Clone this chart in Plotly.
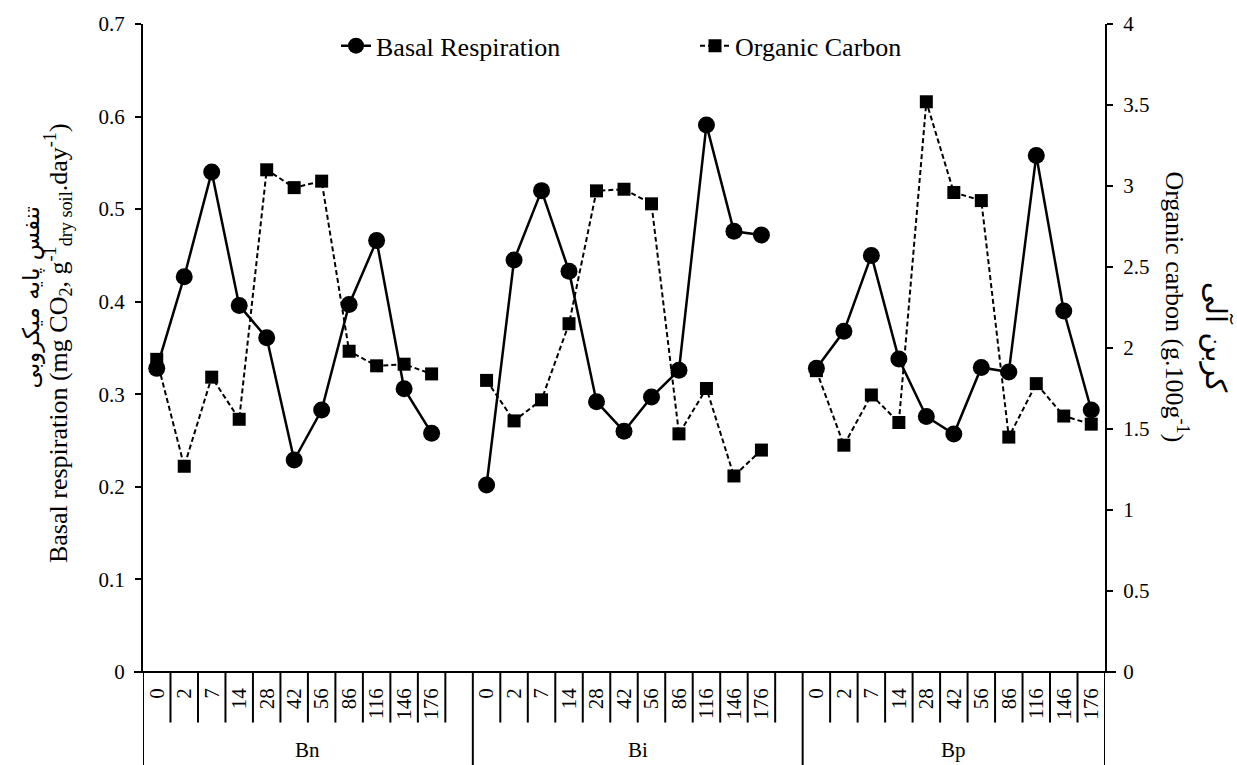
import plotly.graph_objects as go

# ---- data ----
days = ["0", "2", "7", "14", "28", "42", "56", "86", "116", "146", "176"]
groups = ["Bn", "Bi", "Bp"]

resp_bn = [0.328, 0.427, 0.540, 0.396, 0.361, 0.229, 0.283, 0.397, 0.466, 0.306, 0.258]
resp_bi = [0.202, 0.445, 0.520, 0.433, 0.292, 0.260, 0.297, 0.326, 0.591, 0.476, 0.472]
resp_bp = [0.328, 0.368, 0.450, 0.338, 0.276, 0.257, 0.329, 0.324, 0.558, 0.390, 0.283]

oc_bn = [1.93, 1.27, 1.82, 1.56, 3.10, 2.99, 3.03, 1.98, 1.89, 1.90, 1.84]
oc_bi = [1.80, 1.55, 1.68, 2.15, 2.97, 2.98, 2.89, 1.47, 1.75, 1.21, 1.37]
oc_bp = [1.86, 1.40, 1.71, 1.54, 3.52, 2.96, 2.91, 1.45, 1.78, 1.58, 1.53]

resp = [resp_bn, resp_bi, resp_bp]
oc = [oc_bn, oc_bi, oc_bp]

FONT = "Liberation Serif, Times New Roman, serif"
FA_FONT = "DejaVu Serif, DejaVu Sans, serif"
n = len(days)
slot = n + 1  # one blank category after each group

xs, yr, yc, tickvals, ticktext = [], [], [], [], []
for g in range(len(groups)):
    for i in range(n):
        xs.append(g * slot + i)
        yr.append(resp[g][i])
        yc.append(oc[g][i])
        tickvals.append(g * slot + i)
        ticktext.append(days[i])
    if g < len(groups) - 1:
        xs.append(g * slot + n)
        yr.append(None)
        yc.append(None)

xmax = (len(groups) - 1) * slot + n - 0.5

fig = go.Figure()
fig.add_trace(go.Scatter(
    x=xs, y=yr, name="Basal Respiration", mode="lines+markers",
    line=dict(color="black", width=2.5),
    marker=dict(symbol="circle", size=17, color="black"),
    connectgaps=False,
))
fig.add_trace(go.Scatter(
    x=xs, y=yc, name="Organic Carbon", mode="lines+markers", yaxis="y2",
    line=dict(color="black", width=2, dash="5px,3px"),
    marker=dict(symbol="square", size=13, color="black"),
    connectgaps=False,
))

shapes = []
plot_h = 765 - 18 - 93
short_len = 51 / plot_h
long_len = 95 / plot_h
for g in range(len(groups)):
    last = n if g < len(groups) - 1 else n - 1
    for i in range(last):
        xv = g * slot + i + 0.5
        shapes.append(dict(type="line", xref="x", yref="paper", x0=xv, x1=xv,
                           y0=0, y1=-short_len, line=dict(color="black", width=2)))
for xv in [-0.5] + [g * slot + n + 0.5 for g in range(len(groups) - 1)] + [xmax]:
    shapes.append(dict(type="line", xref="x", yref="paper", x0=xv, x1=xv,
                       y0=0, y1=-long_len, line=dict(color="black", width=2)))
shapes.append(dict(type="line", xref="paper", yref="paper", x0=-9 / 962, x1=1 + 11 / 962,
                   y0=0, y1=0, line=dict(color="black", width=2)))

annotations = []
for g, name in enumerate(groups):
    start = g * slot - 0.5
    end = g * slot + n + 0.5 if g < len(groups) - 1 else xmax
    annotations.append(dict(x=(start + end) / 2, y=-(751 - 672) / plot_h, xref="x", yref="paper",
                            text=name, showarrow=False, xanchor="center", yanchor="middle",
                            font=dict(family=FONT, size=21, color="black")))

# axis titles
annotations += [
    dict(x=-(143 - 58) / 962, y=(672 - 340) / plot_h, xref="paper", yref="paper",
         text="Basal respiration (mg CO<sub>2</sub>, g<sup>-1</sup><sub>dry soil</sub>.day<sup>-1</sup>)",
         textangle=-90, showarrow=False, xanchor="center", yanchor="middle",
         font=dict(family=FONT, size=26, color="black")),
    dict(x=-(143 - 31) / 962, y=(672 - 294) / plot_h, xref="paper", yref="paper",
         text="تنفس پایه میکروبی", textangle=-90, showarrow=False,
         xanchor="center", yanchor="middle",
         font=dict(family=FA_FONT, size=23, color="black")),
    dict(x=1 + (1177 - 1105) / 962, y=(672 - 303) / plot_h, xref="paper", yref="paper",
         text="Organic carbon (g.100g<sup>-1</sup>)", textangle=90, showarrow=False,
         xanchor="center", yanchor="middle",
         font=dict(family=FONT, size=26, color="black")),
    dict(x=1 + (1217 - 1105) / 962, y=(672 - 334) / plot_h, xref="paper", yref="paper",
         text="کربن آلی", textangle=90, showarrow=False,
         xanchor="center", yanchor="middle",
         font=dict(family=FA_FONT, size=29, color="black")),
]

fig.update_layout(
    width=1237, height=765,
    margin=dict(l=143, r=132, t=18, b=93),
    paper_bgcolor="white", plot_bgcolor="white",
    font=dict(family=FONT, color="black"),
    showlegend=True,
    legend=dict(orientation="h", x=(336 - 143) / 962, xanchor="left",
                y=(672 - 40) / plot_h, yanchor="middle",
                font=dict(family=FONT, size=26, color="black"),
                bgcolor="rgba(0,0,0,0)", entrywidth=314),
    xaxis=dict(range=[-0.5, xmax], tickmode="array", tickvals=tickvals, ticktext=ticktext,
               tickangle=-90, showgrid=False, zeroline=False, showline=False, ticks="",
               tickfont=dict(family=FONT, size=21, color="black"), ticklabelstandoff=11),
    yaxis=dict(range=[0, 0.7], dtick=0.1, showgrid=False, zeroline=False, showline=True,
               linecolor="black", linewidth=2, ticks="outside", ticklen=6, tickwidth=2,
               tickcolor="black", tickfont=dict(family=FONT, size=21, color="black"),
               ticklabelstandoff=6),
    yaxis2=dict(range=[0, 4], dtick=0.5, overlaying="y", side="right", showgrid=False,
                zeroline=False, showline=True, linecolor="black", linewidth=2,
                ticks="outside", ticklen=6, tickwidth=2, tickcolor="black",
                tickfont=dict(family=FONT, size=21, color="black"), ticklabelstandoff=6),
    shapes=shapes,
    annotations=annotations,
)

fig.write_html("out.html")
